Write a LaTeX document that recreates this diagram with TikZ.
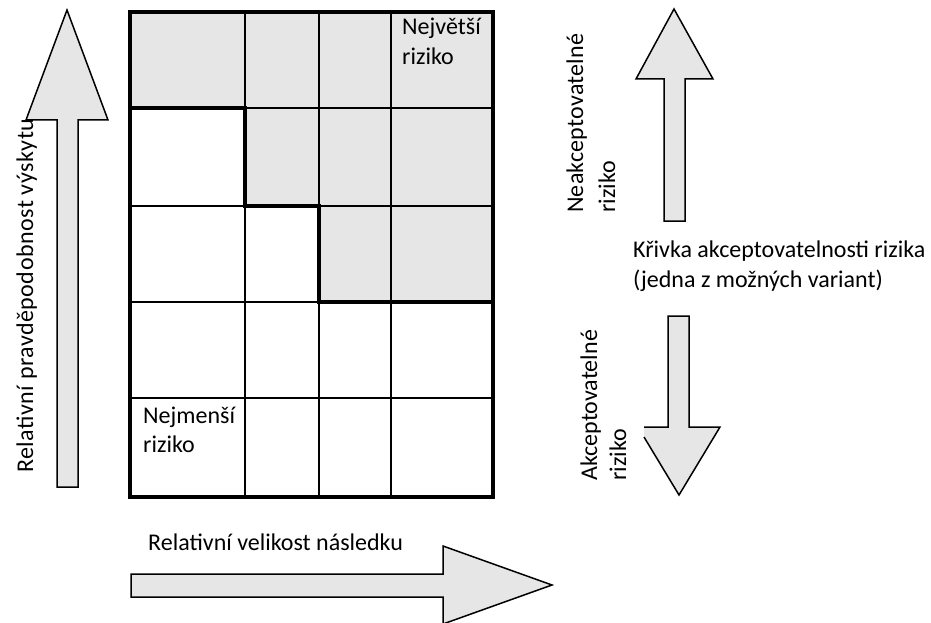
\documentclass[tikz,border=0pt]{standalone}
\usepackage{fontspec}
\setmainfont{Carlito}
\definecolor{cellgray}{HTML}{E6E6E6}
\definecolor{arrowgray}{HTML}{E6E6E6}
\begin{document}
\begin{tikzpicture}[x=1pt,y=-1pt,
  blockarrow/.style={draw=black, fill=arrowgray, line width=1.5pt, line join=miter},
  cellfill/.style={fill=cellgray},
  gridline/.style={line width=2.8pt},
  curveline/.style={line width=4pt, line cap=rect},
  border/.style={line width=4.5pt, line join=miter},
  lbl/.style={font=\fontsize{24}{30}\selectfont, inner sep=0pt, anchor=base west},
  spaced/.style={font=\fontsize{24}{30}\selectfont\addfontfeature{LetterSpace=#1}},
]
\useasboundingbox (0,0) rectangle (931,623);

% grid corners
\coordinate (g00) at (130,12);
\coordinate (g45) at (493,497);

% shaded (unacceptable) cells
\fill[cellfill] (130,12) rectangle (493,108);
\fill[cellfill] (245,108) rectangle (493,206);
\fill[cellfill] (319,206) rectangle (493,302);

% inner grid lines
\foreach \x in {245,319,391} \draw[gridline] (\x,12) -- (\x,497);
\foreach \y in {108,206,302,398} \draw[gridline] (130,\y) -- (493,\y);

% risk acceptability staircase
\draw[curveline] (130,108) -- (245,108) -- (245,206) -- (319,206) -- (319,302) -- (493,302);

% outer border
\draw[border] (g00) rectangle (g45);

% cell labels
\node[lbl] (maxa) at (402,35) {Největší};
\node[lbl] (maxb) at (402,65) {riziko};
\node[lbl] (mina) at (143,423) {Nejmenší};
\node[lbl] (minb) at (143,452) {riziko};

% probability axis arrow
\draw[blockarrow] (57,487) -- (57,120) -- (26,120) -- (67,10) -- (108,120) -- (78,120) -- (78,487) -- cycle;
\node[lbl, spaced=2.0, rotate=90] (prob) at (33,473) {Relativní pravděpodobnost výskytu};

% consequence axis arrow
\draw[blockarrow] (131,574) -- (443,574) -- (443,546) -- (552,585) -- (443,624) -- (443,597) -- (131,597) -- cycle;
\node[lbl] (cons) at (148,550) {Relativní velikost následku};

% unacceptable risk arrow
\draw[blockarrow] (664,221) -- (664,79) -- (636,79) -- (674,9) -- (713,79) -- (685,79) -- (685,221) -- cycle;
\node[lbl, spaced=0.85, rotate=90] (unacca) at (583,213) {Neakceptovatelné};
\node[lbl, rotate=90] (unaccb) at (615,213) {riziko};

% curve label
\node[lbl] (curvea) at (633,257) {Křivka akceptovatelnosti rizika};
\node[lbl] (curveb) at (633,287) {(jedna z možných variant)};

% acceptable risk arrow
\fill[arrowgray] (668,316) -- (689,316) -- (689,427) -- (720,427) -- (679,495) -- (644,437) -- (644,427) -- (668,427) -- cycle;
\draw[line width=1.5pt, line join=miter] (644,437) -- (679,495) -- (720,427) -- (689,427) -- (689,316) -- (668,316) -- (668,427) -- (644,427);
\node[lbl, rotate=90] (acca) at (597,481) {Akceptovatelné};
\node[lbl, rotate=90] (accb) at (626,481) {riziko};
\end{tikzpicture}
\end{document}
